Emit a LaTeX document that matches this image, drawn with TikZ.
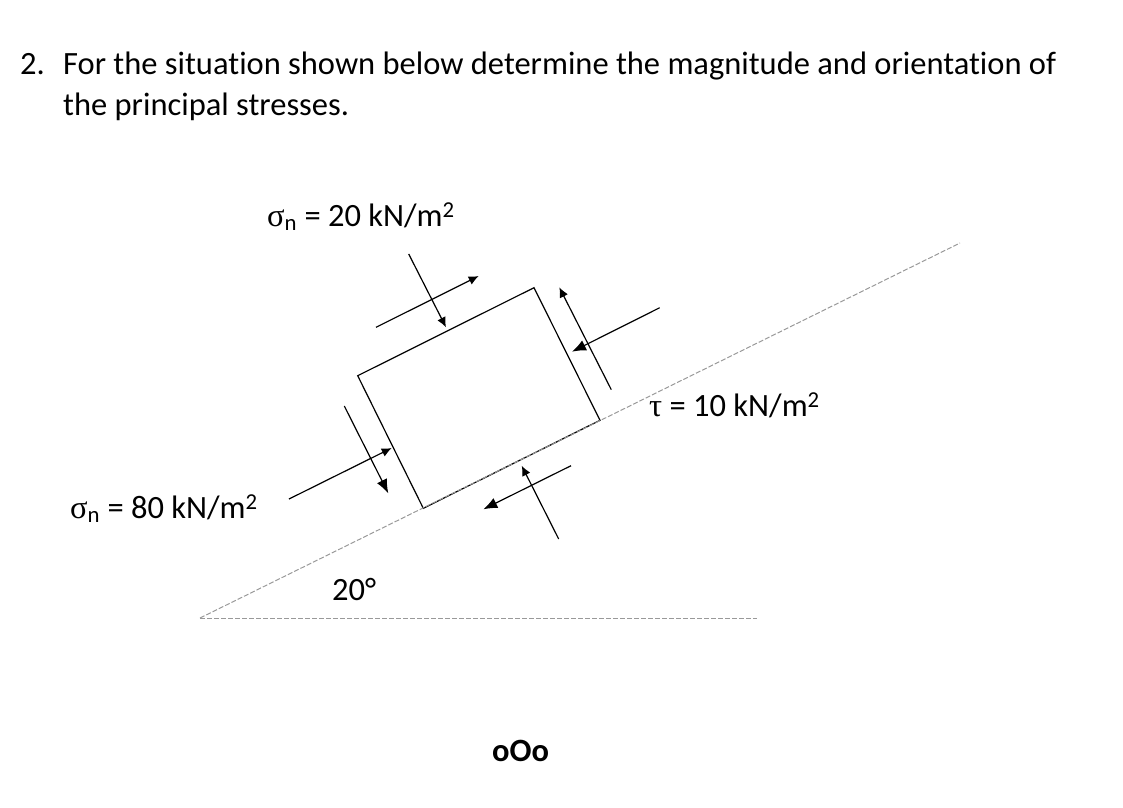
\documentclass[tikz,border=0pt]{standalone}
\usepackage{fontspec}
\setmainfont[RawFeature={-liga}]{Carlito}
\newfontfamily\grk{Liberation Serif}
\usetikzlibrary{arrows.meta}
\tikzset{
  txt/.style={inner sep=0pt,anchor=base west,text=black},
  bodytxt/.style={txt,font=\fontsize{32.5}{32.5}\selectfont},
  lbl/.style={txt,font=\fontsize{32.5}{32.5}\selectfont},
  edge/.style={draw=black,line width=1.2pt,line join=miter},
  force/.style={draw=black,line width=1.2pt,-{Latex[length=10pt,width=9pt]}},
  forcebig/.style={draw=black,line width=1.2pt,-{Latex[length=14pt,width=11pt]}},
  guide/.style={draw=black!40,line width=1pt,dash pattern=on 5pt off 2pt}
}
\newcommand{\sgn}{{\grk σ}\textsubscript{n}}
\newcommand{\tsq}{\textsuperscript{2}}
\begin{document}
\begin{tikzpicture}[x=1pt,y=-1pt]
\useasboundingbox (0,0) rectangle (1123,807);
\node[bodytxt] (n2) at (20,74.5) {2.};
\node[bodytxt] (q1) at (63,74.5) {For the situation shown below determine the magnitude and orientation of};
\node[bodytxt] (q2) at (63,115.5) {the principal stresses.};
\node[lbl] (s20) at (267,226.5) {\sgn{} = 20 kN/m\tsq};
\node[lbl] (s80) at (70,518.5) {\sgn{} = 80 kN/m\tsq};
\node[lbl] (tau) at (649,416.5) {{\grk τ} = 10 kN/m\tsq};
\node[lbl] (ang) at (332,600.5) {20°};
\node[txt,font=\fontsize{32.5}{32.5}\selectfont\bfseries] (ooo) at (492,761) {oOo};

\coordinate (TL) at (357.7,375.7);
\coordinate (TR) at (534,287.7);
\coordinate (BR) at (600,420.3);
\coordinate (BL) at (423.3,508.3);
\draw[edge] (TL) -- (TR) -- (BR) -- (BL) -- cycle;

\coordinate (O) at (200,618);
\coordinate (G1) at (960,243);
\coordinate (G2) at (757,618);
\draw[guide] (O) -- (G1);
\draw[guide] (O) -- (G2);

\coordinate (a1) at (376,327.3);   \coordinate (a2) at (478.7,276);
\coordinate (b1) at (408.7,254);   \coordinate (b2) at (446,327.3);
\coordinate (c1) at (611.3,389.7); \coordinate (c2) at (559.3,287.3);
\coordinate (d1) at (659.7,307.7); \coordinate (d2) at (572,351.7);
\coordinate (e1) at (344.3,406);   \coordinate (e2) at (388.3,493.3);
\coordinate (f1) at (289,499);     \coordinate (f2) at (391.7,448);
\coordinate (g1) at (571,465.7);   \coordinate (g2) at (483.3,509.3);
\coordinate (h1) at (558.7,539);   \coordinate (h2) at (521.7,465.7);
\draw[force] (a1) -- (a2);
\draw[force] (b1) -- (b2);
\draw[force] (c1) -- (c2);
\draw[forcebig] (d1) -- (d2);
\draw[forcebig] (e1) -- (e2);
\draw[force] (f1) -- (f2);
\draw[forcebig] (g1) -- (g2);
\draw[force] (h1) -- (h2);
\end{tikzpicture}
\end{document}
